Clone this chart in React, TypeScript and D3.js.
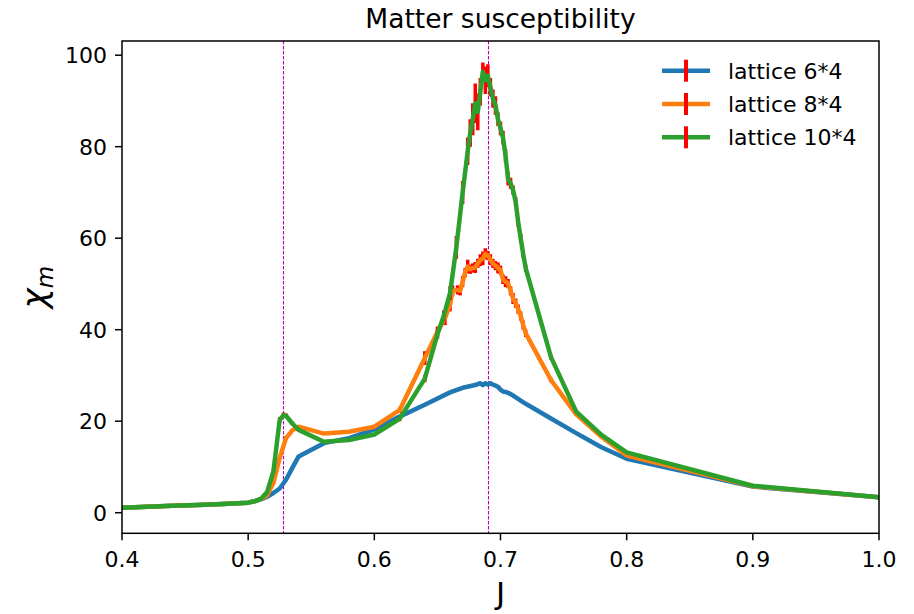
import React from "react";
import * as d3 from "d3";

// ---------- data ----------
const xTicks = [0.4, 0.5, 0.6, 0.7, 0.8, 0.9, 1.0];
const yTicks = [0, 20, 40, 60, 80, 100];
const criticalJ = [0.528, 0.69];

const jBlue = [0.4, 0.42, 0.44, 0.46, 0.48, 0.5, 0.505, 0.51, 0.515, 0.52, 0.525, 0.53, 0.535, 0.54, 0.56, 0.58, 0.6, 0.62, 0.64, 0.66, 0.67, 0.68, 0.684, 0.686, 0.688, 0.69, 0.692, 0.694, 0.696, 0.698, 0.7, 0.702, 0.704, 0.706, 0.71, 0.72, 0.74, 0.76, 0.78, 0.8, 0.9, 1.0];
const chiBlue = [1.1, 1.3, 1.5, 1.7, 1.9, 2.2, 2.5, 2.9, 3.5, 4.3, 5.3, 7.2, 9.8, 12.3, 15.2, 16.3, 18.2, 21.0, 23.6, 26.3, 27.3, 27.9, 28.3, 27.9, 28.3, 28.0, 28.3, 28.0, 27.8, 27.5, 26.9, 26.5, 26.4, 26.2, 25.6, 23.8, 20.6, 17.4, 14.3, 11.8, 5.7, 3.4];
const errBlue = [0.05, 0.05, 0.05, 0.05, 0.05, 0.05, 0.05, 0.05, 0.1, 0.1, 0.1, 0.1, 0.1, 0.1, 0.1, 0.1, 0.1, 0.2, 0.2, 0.2, 0.3, 0.3, 0.3, 0.3, 0.3, 0.3, 0.3, 0.3, 0.3, 0.3, 0.3, 0.3, 0.3, 0.3, 0.2, 0.2, 0.1, 0.1, 0.1, 0.1, 0.05, 0.05];

const jOrange = [0.4, 0.42, 0.44, 0.46, 0.48, 0.5, 0.505, 0.51, 0.515, 0.52, 0.525, 0.53, 0.535, 0.54, 0.56, 0.58, 0.6, 0.62, 0.64, 0.65, 0.656, 0.66, 0.662, 0.666, 0.668, 0.67, 0.672, 0.674, 0.676, 0.678, 0.68, 0.682, 0.684, 0.686, 0.688, 0.69, 0.692, 0.694, 0.696, 0.698, 0.7, 0.702, 0.704, 0.706, 0.708, 0.71, 0.712, 0.714, 0.716, 0.718, 0.72, 0.74, 0.76, 0.78, 0.8, 0.9, 1.0];
const chiOrange = [1.1, 1.3, 1.5, 1.7, 1.9, 2.2, 2.5, 3.0, 3.8, 6.5, 12.0, 16.3, 18.0, 18.8, 17.3, 17.7, 18.8, 22.4, 33.8, 39.5, 42.5, 45.5, 48.5, 48.7, 48.5, 50.5, 52.5, 53.8, 53.2, 53.5, 53.6, 54.5, 55.2, 55.6, 56.6, 56.2, 55.3, 54.5, 54.0, 53.5, 53.0, 51.0, 50.5, 50.1, 48.5, 46.8, 45.8, 44.5, 43.0, 41.0, 39.2, 29.0, 21.5, 16.6, 12.5, 5.8, 3.4];
const errOrange = [0.05, 0.05, 0.05, 0.05, 0.05, 0.05, 0.05, 0.1, 0.1, 0.2, 0.3, 0.4, 0.3, 0.3, 0.3, 0.3, 0.4, 0.6, 1.5, 1.2, 1.5, 1.5, 1.2, 1.0, 1.0, 1.2, 1.0, 1.5, 1.0, 1.0, 1.2, 1.0, 1.3, 1.5, 1.2, 1.0, 1.2, 1.0, 1.0, 1.2, 1.0, 1.0, 1.2, 1.0, 1.0, 1.2, 1.0, 1.0, 1.0, 1.0, 0.8, 0.5, 0.3, 0.2, 0.2, 0.1, 0.1];

const jGreen = [0.4, 0.42, 0.44, 0.46, 0.48, 0.5, 0.505, 0.51, 0.515, 0.52, 0.525, 0.528, 0.53, 0.535, 0.54, 0.56, 0.58, 0.6, 0.62, 0.64, 0.65, 0.655, 0.66, 0.665, 0.67, 0.674, 0.676, 0.678, 0.68, 0.682, 0.684, 0.686, 0.688, 0.69, 0.692, 0.694, 0.696, 0.698, 0.7, 0.702, 0.704, 0.706, 0.708, 0.71, 0.712, 0.714, 0.716, 0.718, 0.72, 0.74, 0.76, 0.78, 0.8, 0.9, 1.0];
const chiGreen = [1.1, 1.3, 1.5, 1.7, 1.9, 2.2, 2.5, 3.0, 4.5, 9.0, 20.3, 21.3, 21.2, 19.5, 18.1, 15.5, 15.9, 17.1, 20.5, 29.3, 39.0, 43.0, 48.0, 58.0, 70.0, 79.0, 83.0, 86.0, 89.5, 87.6, 92.0, 96.4, 94.5, 95.5, 93.0, 90.5, 89.0, 86.0, 84.0, 82.0, 78.0, 73.0, 72.0, 70.5, 68.0, 63.5, 60.0, 56.5, 53.4, 34.0, 22.1, 17.0, 13.2, 5.9, 3.4];
const errGreen = [0.05, 0.05, 0.05, 0.05, 0.05, 0.05, 0.05, 0.1, 0.2, 0.4, 0.6, 0.6, 0.5, 0.4, 0.3, 0.3, 0.3, 0.3, 0.5, 0.8, 1.0, 1.2, 1.5, 2.5, 2.5, 3.0, 3.0, 3.5, 4.3, 4.0, 3.0, 2.0, 3.0, 2.5, 2.0, 2.0, 2.0, 1.5, 1.5, 1.5, 1.5, 1.5, 1.2, 1.0, 1.0, 1.0, 1.0, 0.8, 0.8, 0.5, 0.3, 0.2, 0.2, 0.1, 0.1];

const seriesLabels = ["lattice 6*4", "lattice 8*4", "lattice 10*4"];
const seriesColors = ["#1f77b4", "#ff7f0e", "#2ca02c"];

// ---------- layout ----------
const W = 914;
const H = 614;
const L = 122, R = 879, T = 41, B = 533.3;
const FONT = "'DejaVu Sans', sans-serif";

export default function App() {
  const x = d3.scaleLinear().domain([0.4, 1.0]).range([L, R]);
  const y = d3.scaleLinear().domain([-4.5, 103.1]).range([B, T]);

  const series = [
    { j: jBlue, c: chiBlue, e: errBlue },
    { j: jOrange, c: chiOrange, e: errOrange },
    { j: jGreen, c: chiGreen, e: errGreen },
  ];

  const line = d3
    .line<[number, number]>()
    .x((d) => x(d[0]))
    .y((d) => y(d[1]));

  return (
    <svg
      width={W}
      height={H}
      style={{ position: "absolute", left: 0, top: 0, background: "#fff" }}
      fontFamily={FONT}
    >
      <defs>
        <clipPath id="plotclip">
          <rect x={L} y={T} width={R - L} height={B - T} />
        </clipPath>
      </defs>
      <rect x={0} y={0} width={W} height={H} fill="#fff" />

      {/* critical lines */}
      {criticalJ.map((v, i) => (
        <line
          key={"c" + i}
          x1={Math.round(x(v)) + 0.5}
          x2={Math.round(x(v)) + 0.5}
          y1={T}
          y2={B}
          stroke="#c000c0"
          strokeWidth={1.1}
          strokeDasharray="3.5,1.5"
        />
      ))}

      <g clipPath="url(#plotclip)">
        {series.map((s, si) => {
          const pts: [number, number][] = s.j.map((jj, k) => [jj, s.c[k]]);
          return (
            <g key={"s" + si}>
              {s.j.map((jj, k) => (
                <line
                  key={"e" + k}
                  x1={x(jj)}
                  x2={x(jj)}
                  y1={y(s.c[k] - s.e[k])}
                  y2={y(s.c[k] + s.e[k])}
                  stroke="#ff0000"
                  strokeWidth={3.5}
                />
              ))}
              <path
                d={line(pts) || ""}
                fill="none"
                stroke={seriesColors[si]}
                strokeWidth={4.5}
                strokeLinejoin="round"
                strokeLinecap="square"
              />
            </g>
          );
        })}
      </g>

      {/* frame */}
      <rect x={L} y={T} width={R - L} height={B - T} fill="none" stroke="#000" strokeWidth={1.5} />

      {/* x ticks */}
      {xTicks.map((t) => (
        <g key={"xt" + t}>
          <line x1={x(t)} x2={x(t)} y1={B} y2={B + 7} stroke="#000" strokeWidth={1.5} />
          <text x={x(t)} y={567} textAnchor="middle" fontSize={22} fill="#000">
            {t.toFixed(1)}
          </text>
        </g>
      ))}
      {/* y ticks */}
      {yTicks.map((t) => (
        <g key={"yt" + t}>
          <line x1={L - 7} x2={L} y1={y(t)} y2={y(t)} stroke="#000" strokeWidth={1.5} />
          <text x={107} y={y(t) + 8} textAnchor="end" fontSize={22} fill="#000">
            {String(t)}
          </text>
        </g>
      ))}

      {/* title */}
      <text x={(L + R) / 2} y={28} textAnchor="middle" fontSize={26.5} fill="#000">
        Matter susceptibility
      </text>
      {/* x label */}
      <text x={(L + R) / 2} y={604} textAnchor="middle" fontSize={31} fill="#000">
        J
      </text>
      {/* y label */}
      <text
        transform={`translate(46, ${(T + B) / 2}) rotate(-90)`}
        textAnchor="middle"
        fontSize={34}
        fill="#000"
        fontStyle="italic"
      >
        χ<tspan fontSize={23} dy={7}>m</tspan>
      </text>

      {/* legend */}
      {seriesLabels.map((lab, i) => {
        const ly = 70.7 + i * 33.3;
        return (
          <g key={"lg" + i}>
            <line x1={662} x2={710} y1={ly} y2={ly} stroke={seriesColors[i]} strokeWidth={4.5} />
            <line x1={686} x2={686} y1={ly - 11} y2={ly + 11} stroke="#ff0000" strokeWidth={4} />
            <text x={728} y={ly + 8} fontSize={22} fill="#000">
              {lab}
            </text>
          </g>
        );
      })}
    </svg>
  );
}
